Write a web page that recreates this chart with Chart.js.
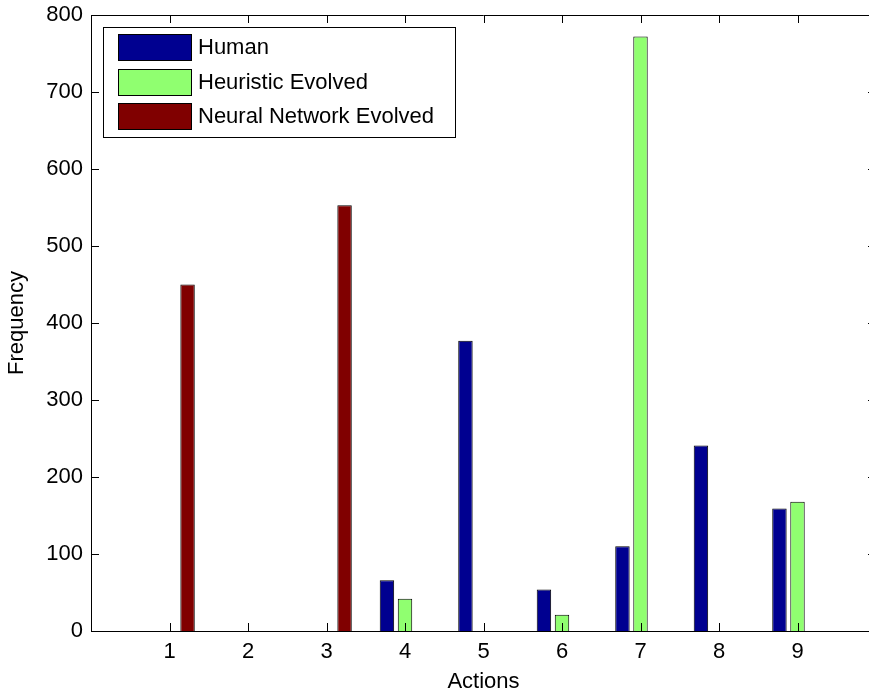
<!DOCTYPE html>
<html>
<head>
<meta charset="utf-8">
<script src="https://cdn.jsdelivr.net/npm/chart.js@4/dist/chart.umd.min.js"></script>
<style>
  html, body { margin: 0; padding: 0; background: #fff; overflow: hidden; }
  #wrap { width: 869px; height: 697px; overflow: hidden; }
  canvas { display: block; }
</style>
</head>
<body>
<div id="wrap"><canvas id="chart" width="877" height="697"></canvas></div>
<script>
// Action ids shown on the x axis
const actions = ['1', '2', '3', '4', '5', '6', '7', '8', '9'];
// How often each action was chosen
const human = [0, 0, 0, 66, 377, 54, 110, 241, 159];
const heuristic = [0, 0, 0, 42, 0, 21, 772, 0, 168];
const neural = [450, 0, 553, 0, 0, 0, 0, 0, 0];
// Frequency axis ticks
const yTicks = [0, 100, 200, 300, 400, 500, 600, 700, 800];

const FONT = 'Liberation Sans, Arial, Helvetica, sans-serif';
const FS = 22;

// The axis runs from 0 to 10 with an empty slot on each side of the actions
const labels = ['', ...actions, ''];
const pad = arr => [null, ...arr, null];

// Inward tick marks on all four sides, the top border line and the legend box
const frame = {
  id: 'frame',
  afterDraw(chart) {
    const {ctx, chartArea: a, scales: {x, y}} = chart;
    ctx.save();
    ctx.strokeStyle = '#000';
    ctx.lineWidth = 1;
    ctx.beginPath();
    ctx.moveTo(a.left, Math.round(a.top) + 0.5);
    ctx.lineTo(a.right, Math.round(a.top) + 0.5);
    actions.forEach((lab, i) => {
      const px = Math.round(x.getPixelForValue(i + 1)) + 0.5;
      ctx.moveTo(px, a.bottom);
      ctx.lineTo(px, a.bottom - 8);
      ctx.moveTo(px, a.top);
      ctx.lineTo(px, a.top + 8);
    });
    yTicks.forEach(v => {
      const py = Math.round(y.getPixelForValue(v)) + 0.5;
      ctx.moveTo(a.left, py);
      ctx.lineTo(a.left + 8, py);
      ctx.moveTo(a.right, py);
      ctx.lineTo(a.right - 8, py);
    });
    ctx.stroke();

    // legend
    const bx = 103, by = 27, bw = 352, bh = 110;
    ctx.fillStyle = '#fff';
    ctx.fillRect(bx, by, bw, bh);
    ctx.strokeRect(bx + 0.5, by + 0.5, bw, bh);
    ctx.font = FS + 'px ' + FONT;
    ctx.textBaseline = 'middle';
    ctx.textAlign = 'left';
    chart.data.datasets.forEach((ds, i) => {
      const cy = 47 + i * 34.5;
      ctx.fillStyle = ds.backgroundColor;
      ctx.fillRect(118, Math.round(cy - 13), 73, 26);
      ctx.strokeStyle = '#000';
      ctx.strokeRect(118.5, Math.round(cy - 13) + 0.5, 73, 26);
      ctx.fillStyle = '#000';
      ctx.fillText(ds.label, 198, cy + 1);
    });
    ctx.restore();
  }
};

new Chart(document.getElementById('chart'), {
  type: 'bar',
  data: {
    labels: labels,
    datasets: [
      { label: 'Human', data: pad(human), backgroundColor: '#000090' },
      { label: 'Heuristic Evolved', data: pad(heuristic), backgroundColor: '#90FF70' },
      { label: 'Neural Network Evolved', data: pad(neural), backgroundColor: '#800000' }
    ]
  },
  options: {
    responsive: false,
    animation: false,
    devicePixelRatio: 1,
    layout: { autoPadding: false, padding: { top: 15, right: 1, left: 0, bottom: 0 } },
    datasets: {
      bar: {
        borderColor: '#000',
        borderWidth: 1,
        categoryPercentage: 0.69,
        barPercentage: 0.8
      }
    },
    plugins: {
      legend: { display: false },
      tooltip: { enabled: false }
    },
    scales: {
      x: {
        type: 'category',
        offset: false,
        grid: { display: false, drawTicks: false },
        border: { display: true, color: '#000', width: 1 },
        ticks: {
          color: '#000',
          font: { family: FONT, size: FS },
          padding: 8,
          autoSkip: false,
          maxRotation: 0
        },
        title: {
          display: true,
          text: 'Actions',
          color: '#000',
          font: { family: FONT, size: FS },
          padding: { top: 0, bottom: 2 }
        },
        afterFit: s => { s.height = 66; s.paddingLeft = 0; s.paddingRight = 0; }
      },
      y: {
        min: 0,
        max: 800,
        grid: { display: false, drawTicks: false },
        border: { display: true, color: '#000', width: 1 },
        ticks: {
          stepSize: 100,
          color: '#000',
          font: { family: FONT, size: FS },
          padding: 8
        },
        title: {
          display: true,
          text: 'Frequency',
          color: '#000',
          font: { family: FONT, size: FS },
          padding: { top: 4, bottom: 0 }
        },
        afterFit: s => { s.width = 91; s.paddingTop = 0; s.paddingBottom = 0; }
      }
    }
  },
  plugins: [frame]
});
</script>
</body>
</html>
